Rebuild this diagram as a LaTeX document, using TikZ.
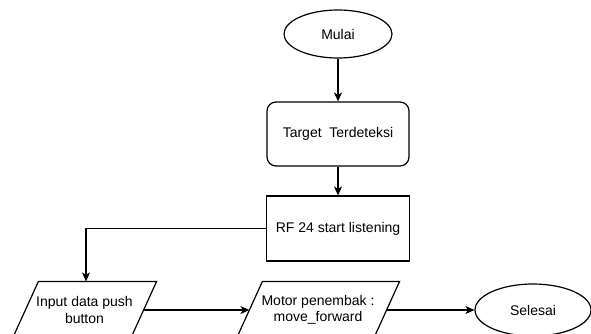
\documentclass[tikz,border=0pt]{standalone}
\usepackage{fontspec}
\setmainfont{Liberation Sans}
\usetikzlibrary{shapes.geometric,arrows.meta}
\begin{document}
\begin{tikzpicture}[x=1pt,y=-1pt,
  font=\fontsize{14}{16.5}\selectfont,
  line width=1.2pt,
  ell/.style={draw,ellipse,inner sep=0pt},
  rbox/.style={draw,rectangle,rounded corners=9pt,inner sep=0pt,align=center},
  sbox/.style={draw,rectangle,inner sep=0pt,align=center},
  pbox/.style={rectangle,inner sep=0pt,align=center,minimum height=56pt},
  arr/.style={-{Stealth[length=9pt,width=8pt,inset=2.5pt]}}
]
\clip (0,0) rectangle (591,333);
\fill[white] (0,0) rectangle (591,333);
\node[ell,minimum width=108pt,minimum height=48pt] (mulai) at (338,34) {Mulai};
\node[rbox,minimum width=142pt,minimum height=64pt] (target) at (338,134) {Target\ \ Terdeteksi};
\node[sbox,minimum width=143pt,minimum height=65pt] (rf) at (338,228.5) {RF 24 start listening};
\node[pbox,minimum width=117pt] (input) at (84.5,310) {Input data push\\button};
\node[pbox,minimum width=136pt] (motor) at (318,310) {Motor penembak :\\move\_forward};
\node[ell,minimum width=116pt,minimum height=52pt] (selesai) at (533,310) {Selesai};
\foreach \n in {input,motor}{
  \draw ([xshift=13pt]\n.north west) -- ([xshift=13pt]\n.north east) -- ([xshift=-13pt]\n.south east) -- ([xshift=-13pt]\n.south west) -- cycle;
}
\draw[arr] (mulai) -- (target);
\draw[arr] (target) -- (rf);
\draw[arr] (rf.west) -| ([xshift=1.5pt]input.north);
\draw[arr] (input.east) -- (motor.west);
\draw[arr] (motor.east) -- (selesai.west);
\end{tikzpicture}
\end{document}
